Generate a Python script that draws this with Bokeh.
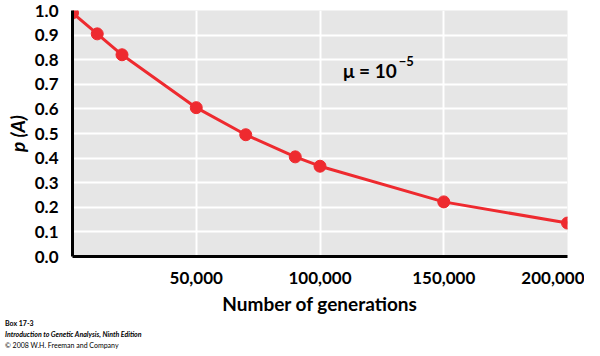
from bokeh.plotting import figure
from bokeh.models import Label, FixedTicker, NumeralTickFormatter, Range1d, Div
from bokeh.layouts import column
from bokeh.embed import file_html
from bokeh.resources import INLINE

generations = [0, 10000, 20000, 50000, 70000, 90000, 100000, 150000, 200000]
p_A = [0.99, 0.905, 0.82, 0.605, 0.495, 0.405, 0.367, 0.222, 0.136]
x_ticks = [50000, 100000, 150000, 200000]
y_ticks = [0.0, 0.1, 0.2, 0.3, 0.4, 0.5, 0.6, 0.7, 0.8, 0.9, 1.0]
credit_lines = ["Box 17-3", "Introduction to Genetic Analysis, Ninth Edition",
                "\u00a9 2008 W.H. Freeman and Company"]

FONT = "Lato"
RED = "#ee2a2f"

p = figure(width=584, height=318, output_backend="svg", toolbar_location=None,
           x_range=Range1d(0, 200000), y_range=Range1d(0, 1.0),
           min_border_left=72, min_border_right=17, min_border_top=10, min_border_bottom=62)
p.background_fill_color = "#e6e6e6"
p.border_fill_color = "white"
p.outline_line_color = None

p.xgrid.ticker = FixedTicker(ticks=x_ticks)
p.ygrid.ticker = FixedTicker(ticks=y_ticks)
for g in (p.xgrid, p.ygrid):
    g.grid_line_color = "white"
    g.grid_line_width = 2

p.xaxis.ticker = FixedTicker(ticks=x_ticks)
p.yaxis.ticker = FixedTicker(ticks=y_ticks)
p.xaxis.formatter = NumeralTickFormatter(format="0,0")
p.yaxis.formatter = NumeralTickFormatter(format="0.0")
for ax in (p.xaxis, p.yaxis):
    ax.axis_line_width = 3
    ax.axis_line_color = "black"
    ax.major_tick_line_color = None
    ax.minor_tick_line_color = None
    ax.major_label_text_font = FONT
    ax.major_label_text_font_style = "bold"
    ax.major_label_text_font_size = "17px"
    ax.major_label_text_color = "black"
    ax.axis_label_text_font = FONT
    ax.axis_label_text_font_size = "19px"
    ax.axis_label_text_color = "black"
p.yaxis.major_label_standoff = 8
p.xaxis.major_label_standoff = 9
p.xaxis.axis_label = "Number of generations"
p.xaxis.axis_label_text_font_style = "bold"
p.xaxis.axis_label_standoff = 5
p.yaxis.axis_label = "p (A)"
p.yaxis.axis_label_text_font_style = "bold italic"
p.yaxis.axis_label_standoff = 3

p.line(generations, p_A, line_color=RED, line_width=3)
p.scatter(generations, p_A, size=12, fill_color=RED, line_color=RED)

p.add_layout(Label(x=109300, y=0.757, text="\u03bc = 10", text_font=FONT, text_font_style="bold",
                   text_font_size="19px", text_align="left", text_baseline="middle", text_color="black"))
p.add_layout(Label(x=131800, y=0.795, text="\u22125", text_font=FONT, text_font_style="bold",
                   text_font_size="13px", text_align="left", text_baseline="middle", text_color="black"))

html = ("<div style='font-family: Lato, sans-serif; font-size: 7px; line-height: 11px; color: black; "
        "padding-left: 5px; white-space: nowrap;'>"
        f"<b>{credit_lines[0]}</b><br><b><i>{credit_lines[1]}</i></b><br>{credit_lines[2]}</div>")
credits = Div(text=html, width=584, height=36, margin=0)

layout = column(p, credits, spacing=0)
open("out.html", "w").write(file_html(layout, INLINE))
